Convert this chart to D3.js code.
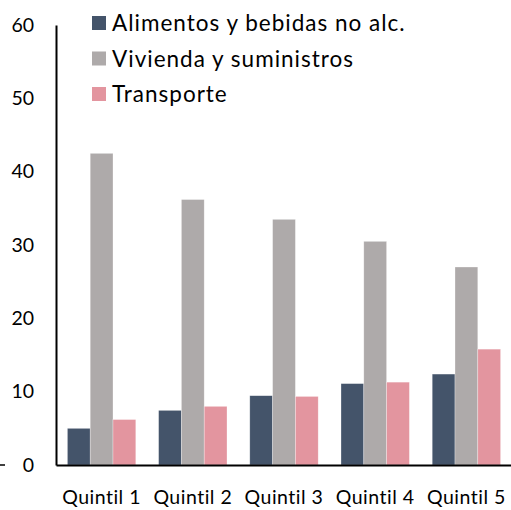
<!DOCTYPE html>
<html>
<head>
<meta charset="utf-8">
<script src="https://cdn.jsdelivr.net/npm/d3@7"></script>
<style>
  body { margin: 0; background: #fff; }
  svg { display: block; font-family: Lato, "Open Sans", sans-serif; }
</style>
</head>
<body>
<div id="chart"></div>
<script>
// Datos
const quintiles = ["Quintil 1", "Quintil 2", "Quintil 3", "Quintil 4", "Quintil 5"];
const series = ["Alimentos y bebidas no alc.", "Vivienda y suministros", "Transporte"];
const alimentos = [5.0, 7.45, 9.45, 11.1, 12.4];
const vivienda = [42.5, 36.2, 33.5, 30.5, 27.0];
const transporte = [6.2, 8.0, 9.35, 11.3, 15.8];
const yTicks = [0, 10, 20, 30, 40, 50, 60];
const colores = ["#44546A", "#AEAAAA", "#E3959F"];

const width = 511, height = 510;
const margin = { top: 25, right: -1, bottom: 45, left: 56 };

const svg = d3.select("#chart").append("svg")
    .attr("width", width)
    .attr("height", height);

const x = d3.scaleBand()
    .domain(quintiles)
    .range([margin.left, width - margin.right])
    .paddingInner(0.25)
    .paddingOuter(0.125);

const xSub = d3.scaleBand()
    .domain(series)
    .range([0, x.bandwidth()]);

const y = d3.scaleLinear()
    .domain([0, 60])
    .range([height - margin.bottom, margin.top]);

const valores = [alimentos, vivienda, transporte];
const data = quintiles.map((q, i) => ({
    q: q,
    vals: series.map((s, j) => ({ s: s, v: valores[j][i], c: colores[j] }))
}));

// Barras
svg.selectAll("g.grupo")
    .data(data)
    .enter()
    .append("g")
    .attr("class", "grupo")
    .attr("transform", d => `translate(${x(d.q)},0)`)
    .selectAll("rect")
    .data(d => d.vals)
    .enter()
    .append("rect")
    .attr("x", d => xSub(d.s))
    .attr("width", xSub.bandwidth())
    .attr("y", d => y(d.v))
    .attr("height", d => y(0) - y(d.v))
    .attr("fill", d => d.c)
    .attr("stroke", "#ffffff")
    .attr("stroke-opacity", 0.5)
    .attr("stroke-width", 0.6);

// Eje Y
const yAxis = svg.append("g")
    .attr("transform", `translate(${margin.left},0)`)
    .call(d3.axisLeft(y).tickValues(yTicks).tickSize(0).tickPadding(22));
yAxis.select(".domain").attr("stroke", "#000").attr("stroke-width", 2);
yAxis.selectAll("text")
    .style("font-size", "19.5px")
    .style("font-family", "Lato, sans-serif")
    .attr("fill", "#000");

// pequeña marca a la izquierda del 0
svg.append("line")
    .attr("x1", 0).attr("x2", 5)
    .attr("y1", y(0)).attr("y2", y(0))
    .attr("stroke", "#000").attr("stroke-width", 1.5);

// Eje X
const xAxis = svg.append("g")
    .attr("transform", `translate(0,${y(0)})`)
    .call(d3.axisBottom(x).tickSize(0).tickPadding(25).tickSizeOuter(0));
xAxis.select(".domain").attr("stroke", "#000").attr("stroke-width", 2);
xAxis.selectAll("text")
    .style("font-size", "19.5px")
    .style("letter-spacing", "0.5px")
    .style("font-family", "Lato, sans-serif")
    .attr("fill", "#000");

// Leyenda
const leyenda = svg.append("g").attr("transform", "translate(92,16)");
series.forEach((s, i) => {
    const g = leyenda.append("g").attr("transform", `translate(0,${i * 35.5})`);
    g.append("rect")
        .attr("width", 14).attr("height", 14)
        .attr("fill", colores[i]);
    g.append("text")
        .attr("x", 20).attr("y", 7)
        .attr("dy", "0.36em")
        .style("font-size", "22.5px")
        .style("letter-spacing", "1px")
        .attr("fill", "#000")
        .text(s);
});
</script>
</body>
</html>
